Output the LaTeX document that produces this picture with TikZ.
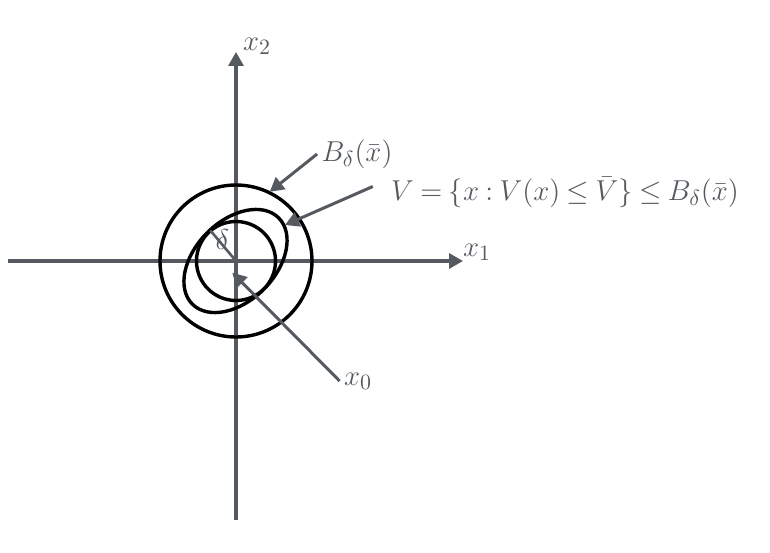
\documentclass[tikz,border=0pt]{standalone}
\usepackage{amsmath,amssymb}
\usepackage{tikz}
\usetikzlibrary{arrows.meta, positioning, calc}
\definecolor{axisgray}{RGB}{85,90,97}

\begin{document}
\begin{tikzpicture}[x=0.5pt, y=0.5pt,
	every node/.style = {align=center, text=axisgray, inner sep=2pt,
		font=\fontsize{15}{18}\selectfont},
	axis/.style = {draw=axisgray, line width=1.6pt, -{Triangle[length=7pt,width=7.5pt]}},
	pointer/.style = {draw=axisgray, line width=1.5pt, -{Triangle[length=7pt,width=7.5pt]}},
	curve/.style = {draw=black, line width=1.7pt}]
	\useasboundingbox (-236,-291) rectangle (534,261);
	% axes
	\draw[axis] (-228,0) -- (227,0);
	\draw[axis] (0,-259) -- (0,209);
	\node (xone) at (241,9) {$x_1$};
	\node (xtwo) at (21,215) {$x_2$};
	% sets
	\draw[curve] (0,0) circle (76);
	\draw[curve] (0,0) circle (39.5);
	\draw[curve] (-0.5,0) ellipse [x radius=61, y radius=40, rotate=45];
	\draw[axisgray, line width=1.3pt] (0,0) -- (130:40);
	\node (delta) at (-13.5,22) {$\delta$};
	% labels
	\node (ball) at (121,107) {$B_\delta(\bar{x})$};
	\node (vset) at (329,68.5) {\thickmuskip=4mu $V=\{x: V(x)\leq\bar{V}\}\leq B_\delta(\bar{x})$};
	\node (xzero) at (122,-120) {$x_0$};
	\coordinate (tipB) at (64:77);
	\coordinate (tipV) at (49,36);
	\coordinate (tipX) at (-3.7,-11.7);
	\draw[pointer] (ball.west) -- (tipB);
	\draw[pointer] ([shift={(-7pt,3pt)}]vset.west) -- (tipV);
	\draw[pointer] (xzero.west) -- (tipX);
\end{tikzpicture}
\end{document}
